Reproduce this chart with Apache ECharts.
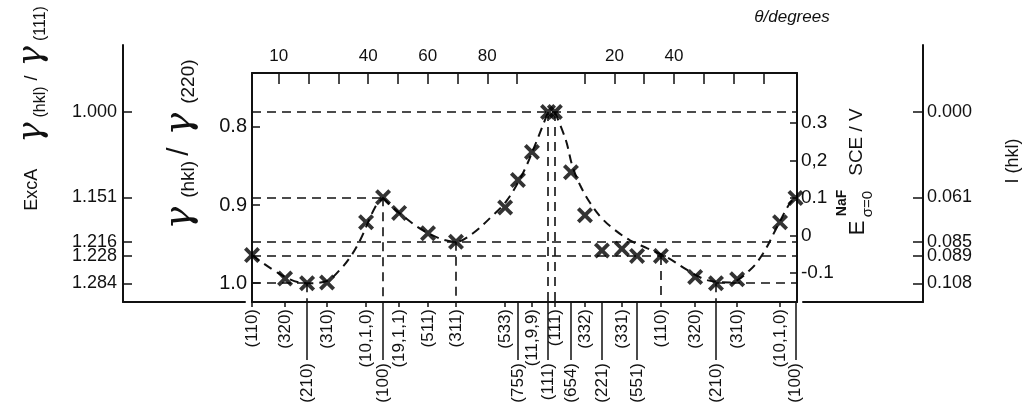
<!DOCTYPE html>
<html>
<head>
<meta charset="utf-8">
<script src="https://cdn.jsdelivr.net/npm/echarts@6/dist/echarts.min.js"></script>
<style>
html, body { margin: 0; padding: 0; background: #fff; }
#main { width: 1024px; height: 418px; }
</style>
</head>
<body>
<div id="main"></div>
<script>
// faces along the path (110) -> (100) -> (111) | (111) -> (110) -> (100)
var faces = ['(110)', '(320)', '(210)', '(310)', '(10,1,0)', '(100)', '(19,1,1)', '(511)', '(311)',
    '(533)', '(755)', '(11,9,9)', '(111)', '(111)', '(654)', '(332)', '(221)', '(331)', '(551)',
    '(110)', '(320)', '(210)', '(310)', '(10,1,0)', '(100)'];
// position along the path, degrees
var pathDeg = [0, 11.1, 18.5, 25.2, 38.3, 44.0, 49.4, 59.1, 68.5,
    85.0, 89.3, 94.0, 99.4, 101.7, 107.1, 111.8, 117.5, 124.2, 129.3,
    137.3, 148.8, 155.8, 162.9, 177.3, 182.5];
// gamma(hkl) / gamma(220), measured points
var gammaRatio = [0.964, 0.994, 1.000, 0.999, 0.922, 0.890, 0.910, 0.936, 0.947,
    0.903, 0.868, 0.832, 0.781, 0.781, 0.858, 0.913, 0.958, 0.956, 0.965,
    0.965, 0.992, 1.000, 0.995, 0.922, 0.891];
// 1 = short tick label, 2 = long tick label
var labelRow = [1, 1, 2, 1, 1, 2, 1, 1, 1, 1, 2, 1, 2, 1, 2, 1, 2, 1, 2, 1, 1, 2, 1, 1, 2];

// dashed theoretical curve, three branches
var curveA = [[0, 0.964], [11.1, 0.992], [18.5, 1.0], [25.2, 0.997], [29.5, 0.983], [32.9, 0.967],
    [36.3, 0.945], [41.3, 0.903], [44.0, 0.891]];
var curveB = [[44.0, 0.891], [49.4, 0.910], [59.1, 0.936], [68.5, 0.947], [74.2, 0.936], [80.9, 0.913],
    [85.6, 0.894], [91.0, 0.859], [95.7, 0.817], [99.4, 0.781]];
var curveC = [[101.7, 0.781], [105.4, 0.817], [107.5, 0.849], [110.1, 0.874], [113.5, 0.897], [117.5, 0.917],
    [121.9, 0.932], [126.9, 0.945], [132.6, 0.955], [139.4, 0.967], [146.1, 0.983], [152.8, 0.996],
    [160.5, 0.999], [167.2, 0.983], [171.6, 0.962], [176.3, 0.928], [180.7, 0.897], [182.5, 0.891]];

// outer scales are labelled at the levels of (111), (100), (311), (110), (210)
var levelFaces = [12, 5, 8, 19, 2];
var excALabels = ['1.000', '1.151', '1.216', '1.228', '1.284'];
var intensityLabels = ['0.000', '0.061', '0.085', '0.089', '0.108'];

var gammaTicks = [0.8, 0.9, 1.0];
var eTicks = [-0.1, 0, 0.1, 0.2, 0.3];
var eLabels = ['-0.1', '0', '0.1', '0,2', '0.3'];

var thetaTicksA = [10, 20, 30, 40, 50, 60, 70, 80, 90];
var thetaLabelsA = [10, 40, 60, 80];
var thetaTicksB = [10, 20, 30, 40, 50, 60, 70];
var thetaLabelsB = [20, 40];
var thetaZeroA = -1;
var thetaZeroB = pathDeg[13];

var xMin = 0, xMax = 183;
var gTop = 0.731, gBottom = 1.024, gOuterTop = 0.695;
var eMin = -0.177, eMax = 0.433;

var font = 'Liberation Sans';
var ink = '#111';

function nearest(arr, v) {
    var best = 0;
    for (var i = 1; i < arr.length; i++) {
        if (Math.abs(arr[i] - v) < Math.abs(arr[best] - v)) best = i;
    }
    return best;
}

var levels = levelFaces.map(function (i) { return gammaRatio[i]; });
var rowValues = function (r) {
    return pathDeg.filter(function (x, i) { return labelRow[i] === r; });
};
var topTicks = thetaTicksA.map(function (t) { return t + thetaZeroA; })
    .concat(thetaTicksB.map(function (t) { return t + thetaZeroB; }));
var topLabels = thetaLabelsA.map(function (t) { return t + thetaZeroA; })
    .concat(thetaLabelsB.map(function (t) { return t + thetaZeroB; }));

// guide lines from the key faces to the axes
var guides = [];
[12, 8, 19].forEach(function (i) {
    guides.push([{ coord: [xMin, gammaRatio[i]] }, { coord: [xMax, gammaRatio[i]] }]);
});
guides.push([{ coord: [xMin, gammaRatio[5]] }, { coord: [pathDeg[5], gammaRatio[5]] }]);
guides.push([{ coord: [xMin, gammaRatio[2]] }, { coord: [pathDeg[2], gammaRatio[2]] }]);
guides.push([{ coord: [pathDeg[21], gammaRatio[21]] }, { coord: [xMax, gammaRatio[21]] }]);
[2, 5, 8, 12, 13, 19, 21].forEach(function (i) {
    guides.push([{ coord: [pathDeg[i], gammaRatio[i]] }, { coord: [pathDeg[i], gBottom] }]);
});

var crossPath = 'path://M0,1.7L1.7,0L5,3.3L8.3,0L10,1.7L6.7,5L10,8.3L8.3,10L5,6.7L1.7,10L0,8.3L3.3,5Z';
var dash = [9, 6];
var lineAxis = { show: true, onZero: false, lineStyle: { color: ink, width: 2 } };
var noSplit = { show: false };

function vtext(x, y, text, fontSpec, rich) {
    var style = {
        text: text, fill: ink, font: fontSpec,
        align: 'center', verticalAlign: 'middle', textAlign: 'center', textVerticalAlign: 'middle'
    };
    if (rich) style.rich = rich;
    return { type: 'text', x: x, y: y, rotation: Math.PI / 2, style: style };
}

var myChart = echarts.init(document.getElementById('main'));
var option = {
    backgroundColor: '#fff',
    animation: false,
    textStyle: { fontFamily: font, color: ink },
    grid: [
        { left: 252, top: 73, width: 545, height: 229 },
        { left: 123, top: 45, width: 122, height: 257 },
        { left: 803, top: 45, width: 120, height: 257 }
    ],
    xAxis: [
        {   // bottom, short ticks
            gridIndex: 0, type: 'value', position: 'bottom', min: xMin, max: xMax,
            axisLine: lineAxis, splitLine: noSplit,
            axisTick: { show: true, inside: false, length: 5, customValues: rowValues(1), lineStyle: { color: ink, width: 1.5 } },
            axisLabel: {
                customValues: rowValues(1), rotate: 90, margin: 7, fontSize: 17, color: ink,
                formatter: function (v) { return faces[nearest(pathDeg, v)]; }
            }
        },
        {   // bottom, long ticks
            gridIndex: 0, type: 'value', position: 'bottom', min: xMin, max: xMax,
            axisLine: { show: false, onZero: false }, splitLine: noSplit,
            axisTick: { show: true, inside: false, length: 58, customValues: rowValues(2), lineStyle: { color: ink, width: 1.5 } },
            axisLabel: {
                customValues: rowValues(2), rotate: 90, margin: 61, fontSize: 17, color: ink,
                formatter: function (v) { return faces[nearest(pathDeg, v)]; }
            }
        },
        {   // top, theta
            gridIndex: 0, type: 'value', position: 'top', min: xMin, max: xMax,
            axisLine: lineAxis, splitLine: noSplit,
            axisTick: { show: true, inside: true, length: 11, customValues: topTicks, lineStyle: { color: ink, width: 1.5 } },
            axisLabel: {
                customValues: topLabels, margin: 8, fontSize: 17, color: ink,
                formatter: function (v) {
                    return v < thetaZeroB ? Math.round(v - thetaZeroA) : Math.round(v - thetaZeroB);
                }
            }
        },
        { gridIndex: 1, type: 'value', min: 0, max: 1, axisLine: lineAxis, axisTick: { show: false }, axisLabel: { show: false }, splitLine: noSplit },
        { gridIndex: 2, type: 'value', min: 0, max: 1, axisLine: lineAxis, axisTick: { show: false }, axisLabel: { show: false }, splitLine: noSplit }
    ],
    yAxis: [
        {   // gamma(hkl)/gamma(220)
            gridIndex: 0, type: 'value', position: 'left', inverse: true, min: gTop, max: gBottom,
            axisLine: lineAxis, splitLine: noSplit,
            axisTick: { show: true, inside: true, length: 8, customValues: gammaTicks, lineStyle: { color: ink, width: 1.5 } },
            axisLabel: { customValues: gammaTicks, margin: 5, fontSize: 20, color: ink, formatter: function (v) { return v.toFixed(1); } }
        },
        {   // E (NaF, sigma=0) vs SCE
            gridIndex: 0, type: 'value', position: 'right', min: eMin, max: eMax,
            axisLine: lineAxis, splitLine: noSplit,
            axisTick: { show: true, inside: true, length: 7, customValues: eTicks, lineStyle: { color: ink, width: 1.5 } },
            axisLabel: { customValues: eTicks, margin: 4, fontSize: 19, color: ink, formatter: function (v) { return eLabels[nearest(eTicks, v)]; } }
        },
        {   // ExcA
            gridIndex: 1, type: 'value', position: 'left', inverse: true, min: gOuterTop, max: gBottom,
            axisLine: lineAxis, splitLine: noSplit,
            axisTick: { show: true, inside: true, length: 9, customValues: levels, lineStyle: { color: ink, width: 1.5 } },
            axisLabel: { customValues: levels, margin: 6, fontSize: 18, color: ink, formatter: function (v) { return excALabels[nearest(levels, v)]; } }
        },
        {   // I(hkl)
            gridIndex: 2, type: 'value', position: 'right', inverse: true, min: gOuterTop, max: gBottom,
            axisLine: lineAxis, splitLine: noSplit,
            axisTick: { show: true, inside: true, length: 10, customValues: levels, lineStyle: { color: ink, width: 1.5 } },
            axisLabel: { customValues: levels, margin: 4, fontSize: 18, color: ink, formatter: function (v) { return intensityLabels[nearest(levels, v)]; } }
        }
    ],
    series: [
        { name: 'curveA', type: 'line', smooth: 0.35, symbol: 'none', data: curveA, lineStyle: { color: ink, width: 2, type: dash } },
        { name: 'curveB', type: 'line', smooth: 0.35, symbol: 'none', data: curveB, lineStyle: { color: ink, width: 2, type: dash } },
        { name: 'curveC', type: 'line', smooth: 0.35, symbol: 'none', data: curveC, lineStyle: { color: ink, width: 2, type: dash } },
        {
            name: 'faces', type: 'scatter', symbol: crossPath, symbolSize: 16,
            itemStyle: { color: '#000' },
            data: pathDeg.map(function (x, i) { return [x, gammaRatio[i]]; }),
            markLine: {
                silent: true, symbol: ['none', 'none'], label: { show: false },
                lineStyle: { color: ink, width: 1.6, type: dash },
                data: guides
            },
            z: 5
        }
    ],
    graphic: [
        vtext(32, 108, '{t|ExcA}{sp| }{g|γ}{s|(hkl)}{t| / }{g|γ}{s|(111)}', '18px ' + font, {
            t: { fontSize: 18, fontFamily: font, lineHeight: 34 },
            sp: { width: 22, lineHeight: 34 },
            g: { fontSize: 34, fontFamily: 'DejaVu Serif', fontStyle: 'italic', lineHeight: 34, padding: [0, 4, 0, 4] },
            s: { fontSize: 16, fontFamily: font, verticalAlign: 'bottom', padding: [12, 1, 0, 1], lineHeight: 34 }
        }),
        vtext(180, 148, '{g|γ}{s|(hkl)}{t|/}{g|γ}{s|(220)}', '18px ' + font, {
            t: { fontSize: 30, fontFamily: font, lineHeight: 36, padding: [0, 4, 0, 4] },
            g: { fontSize: 38, fontFamily: 'DejaVu Serif', fontStyle: 'italic', lineHeight: 36, padding: [0, 8, 0, 8] },
            s: { fontSize: 19, fontFamily: font, verticalAlign: 'bottom', padding: [13, 1, 0, 1], lineHeight: 36 }
        }),
        vtext(857, 142, 'SCE / V', '19px ' + font),
        vtext(858, 228, 'E', '22px ' + font),
        vtext(842, 203, 'NaF', 'bold 14px ' + font),
        vtext(868, 204, 'σ=0', '15px ' + font),
        vtext(1013, 161, 'I (hkl)', '18px ' + font),
        {
            type: 'text', x: 792, y: 17,
            style: { text: 'θ/degrees', align: 'center', verticalAlign: 'middle', textAlign: 'center', textVerticalAlign: 'middle', fill: ink, font: 'italic 17px ' + font }
        }
    ]
};

myChart.setOption(option);
</script>
</body>
</html>
